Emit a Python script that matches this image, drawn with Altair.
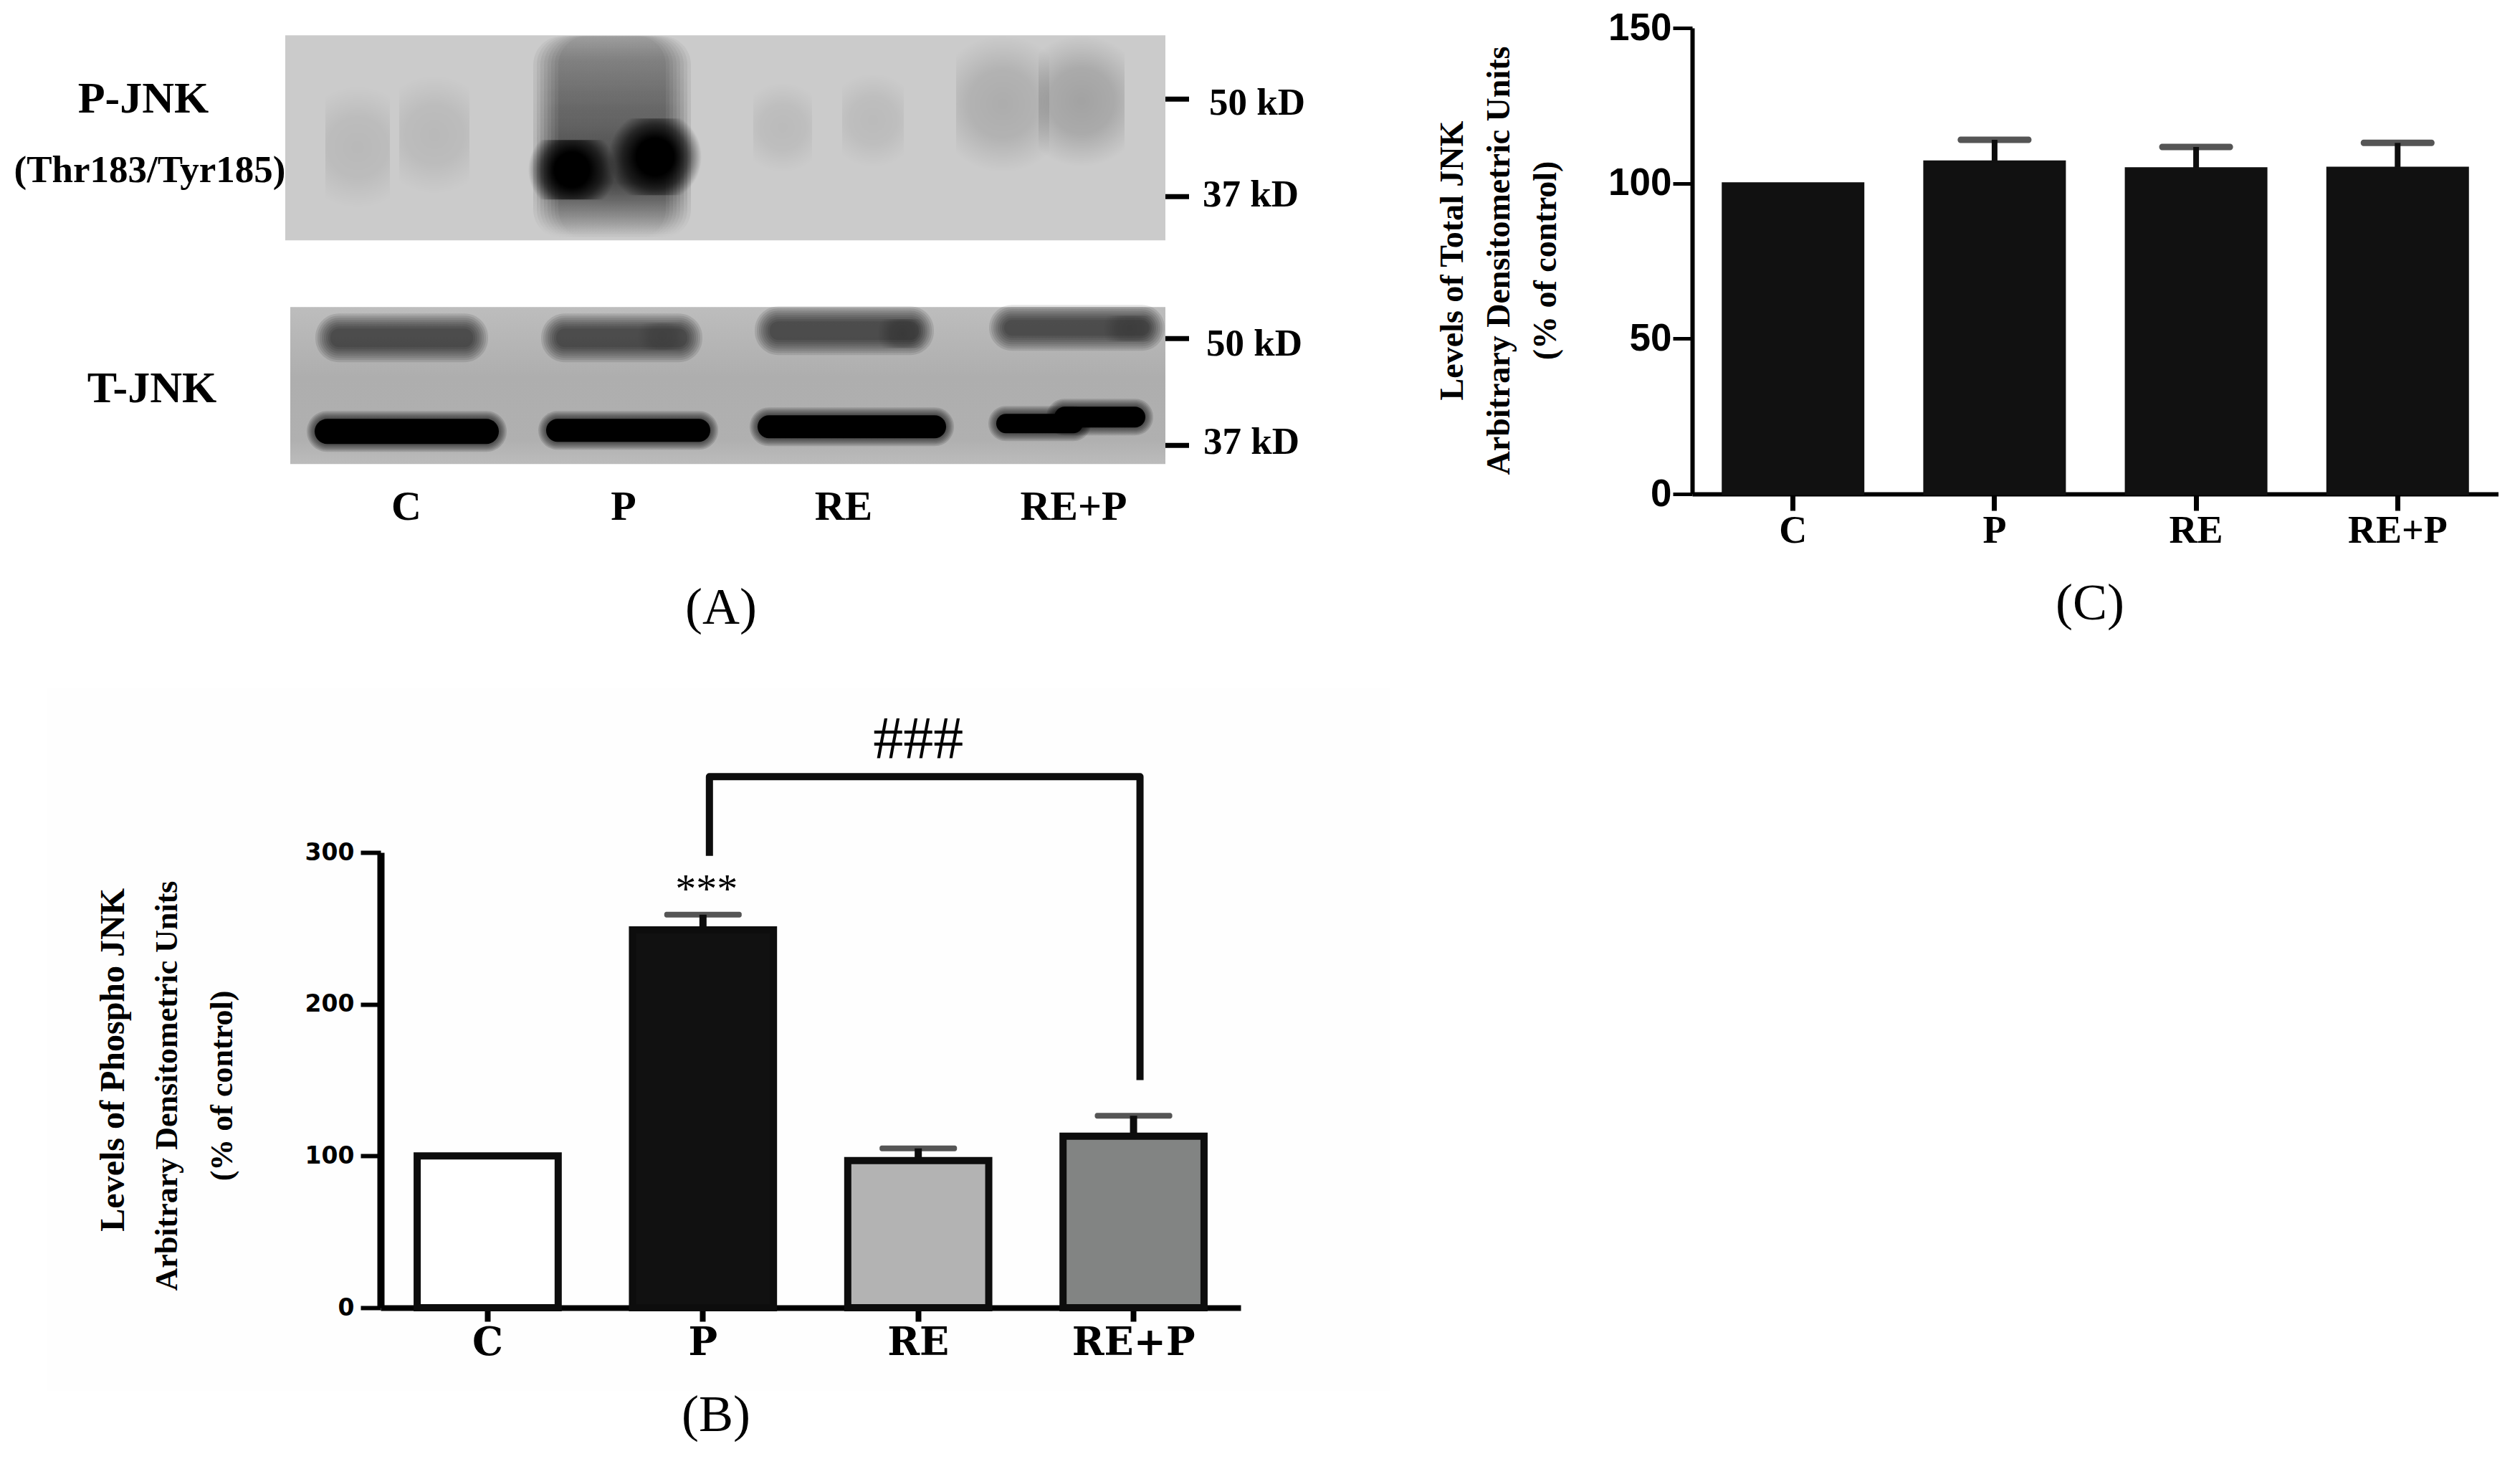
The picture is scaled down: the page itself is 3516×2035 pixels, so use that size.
import altair as alt
import pandas as pd

groups = ["C", "P", "RE", "RE+P"]
# panel B
b_mean = [100, 249, 97, 113]
b_top = [None, 259, 105, 126.5]
b_fill = ["#ffffff", "#111111", "#b3b3b3", "#828483"]
# panel C
c_mean = [100, 107, 104.8, 105]
c_top = [None, 114, 111.7, 113]
# bracket between P and RE+P
br_group = ["P", "P", "RE+P", "RE+P"]
br_val = [297.7, 350, 350, 150]

BLACK = "#0d0d0d"
SERIF = "Liberation Serif"
SANS = "Liberation Sans"

# canvas for the blots: the axes read image pixels
cx = alt.Scale(domain=[12, 2362], nice=False, zero=False)
cy = alt.Scale(domain=[38.7, 688.7], nice=False, zero=False, reverse=True)
def rects(rows, **mark):
    df = pd.DataFrame(rows, columns=["x0", "x1", "y0", "y1", "o"])
    return alt.Chart(df).mark_rect(**mark).encode(
        x=alt.X("x0:Q", scale=cx, axis=None), x2="x1:Q",
        y=alt.Y("y0:Q", scale=cy, axis=None), y2="y1:Q",
        opacity=alt.Opacity("o:Q", scale=None))
def grow(rows, d, o):
    return [[a - d, b + d, c - d, e + d, o] for a, b, c, e, _ in rows]
def growx(rows, d, o):
    return [[a - d, b + d, c, e, o] for a, b, c, e, _ in rows]
def texts(rows, font, size, weight="bold", angle=0):
    df = pd.DataFrame(rows, columns=["t", "x", "y"])
    return alt.Chart(df).mark_text(font=font, fontSize=size, fontWeight=weight, angle=angle,
                                   align="center", baseline="middle", color="#000000").encode(
        x=alt.X("x:Q", scale=cx, axis=None), y=alt.Y("y:Q", scale=cy, axis=None), text="t:N")

def stop(o, a, c="0,0,0"):
    return {"offset": o, "color": f"rgba({c},{a})"}
radial = {"gradient": "radial", "stops": [stop(0, 1), stop(0.5, 0.8), stop(0.8, 0.3), stop(1, 0)]}
core = {"gradient": "radial", "stops": [stop(0, 1), stop(0.4, 1), stop(0.7, 0.6), stop(1, 0)]}
haze = {"gradient": "linear", "x1": 0, "y1": 0, "x2": 0, "y2": 1, "stops": [
    stop(0, 0.25), stop(0.12, 0.45), stop(0.45, 0.72), stop(0.72, 1), stop(0.85, 0.5), stop(1, 0)]}
t_bg = {"gradient": "linear", "x1": 0, "y1": 0, "x2": 0, "y2": 1, "stops": [
    {"offset": 0, "color": "#bdbdbd"}, {"offset": 0.45, "color": "#aeaeae"},
    {"offset": 0.85, "color": "#b0b0b0"}, {"offset": 1, "color": "#bcbcbc"}]}

panel_b_bg = [[66, 1940, 960, 1940, 1]]
p_blot = [[399, 1627, 49, 335, 1]]
t_blot = [[406, 1627, 428, 647, 1]]
p_haze = [[745, 965, 50, 332, 0.125]]
p_cores = [[738, 860, 195, 278, 1], [850, 980, 165, 272, 1]]
p_faint = [
    [455, 545, 120, 290, 0.09], [558, 656, 105, 270, 0.09],
    [1052, 1134, 115, 240, 0.08], [1176, 1262, 102, 233, 0.08],
    [1335, 1465, 49, 240, 0.15], [1450, 1570, 49, 232, 0.2],
]
t_up = [[462, 661, 458, 484, 0.1], [777, 960, 458, 484, 0.1], [1075, 1283, 448, 474, 0.1], [1402, 1605, 446, 468, 0.1]]
t_spot = [[1225, 1295, 445, 485, 0.25], [1540, 1615, 440, 476, 0.2], [890, 960, 450, 488, 0.15]]
t_low = [[440, 697, 584, 619, 1], [763, 992, 584, 616, 1], [1058, 1321, 579, 611, 1],
         [1391, 1512, 577, 604, 1], [1472, 1599, 567, 596, 1]]
ticks = [[1627, 1660, 138, 138, 1], [1627, 1660, 274, 274, 1], [1627, 1660, 472, 472, 1], [1627, 1660, 621, 621, 1]]

labels_l = [["P-JNK", 201, 138], ["T-JNK", 213, 542]]
labels_thr = [["(Thr183/Tyr185)", 210, 238]]
labels_kd = [["50 kD", 1755, 144], ["37 kD", 1746, 272], ["50 kD", 1751, 480], ["37 kD", 1747, 617]]
labels_lane = [["C", 568, 708], ["P", 871, 708], ["RE", 1178, 708], ["RE+P", 1499, 708]]
labels_panel = [["(A)", 1007, 848], ["(B)", 1000, 1974], ["(C)", 2917, 842]]
label_b1 = [["Levels of Phospho JNK", 160, 1478]]

tick_df = pd.DataFrame(ticks, columns=["x0", "x1", "y0", "y1", "o"])
tick_marks = alt.Chart(tick_df).mark_rule(strokeWidth=7, color="#000000").encode(
    x=alt.X("x0:Q", scale=cx, axis=None), x2="x1:Q", y=alt.Y("y0:Q", scale=cy, axis=None))

blur_layers = []
for d in range(0, 40, 5):
    blur_layers.append(rects(growx(p_haze, -d, 0.125), fill=haze, cornerRadius=40))
blur_layers.append(rects(p_cores, fill=core))
for d in range(21, -1, -3):
    blur_layers.append(rects(grow(t_up, d, 0.1), fill="#000000", cornerRadius=d + 12))
blur_layers.append(rects(t_spot, fill=radial))
for d in range(11, 0, -2):
    blur_layers.append(rects(grow(t_low, d, 0.13), fill="#000000", cornerRadius=d + 18))
blur_layers.append(rects(t_low, fill="#000000", cornerRadius=18))

canvas = alt.layer(
    rects(panel_b_bg, fill="#fefefe"),
    rects(p_blot, fill="#cbcbcb"),
    rects(t_blot, fill=t_bg),
    rects(p_faint, fill=radial),
    *blur_layers,
    tick_marks,
    texts(labels_l, SERIF, 62),
    texts(labels_thr, SERIF, 53),
    texts(labels_kd, SERIF, 53),
    texts(labels_lane, SERIF, 58),
    texts(labels_panel, SERIF, 72, weight="normal"),
    texts(label_b1, SERIF, 48, angle=270),
).properties(width=2350, height=650)

# panel C
dfc = pd.DataFrame({"g": groups, "m": c_mean, "top": c_top})
xc = alt.X("g:N", sort=groups, scale=alt.Scale(paddingInner=0.303, paddingOuter=0.152),
           axis=alt.Axis(title=None, labelAngle=0, labelFont=SERIF, labelFontWeight="bold", labelFontSize=54,
                         labelColor="#000000", labelPadding=1, tickSize=23, tickWidth=7, tickColor="#000000",
                         domainWidth=6, domainColor="#000000", labelBaseline="top"))
yc = alt.Y("m:Q", scale=alt.Scale(domain=[0, 150], nice=False),
           axis=alt.Axis(values=[0, 50, 100, 150], grid=False, labelFont=SANS, labelFontWeight="bold",
                         labelFontSize=53, labelColor="#000000", labelPadding=2, tickSize=27, tickWidth=5,
                         tickColor="#000000", domainWidth=6, domainColor="#000000",
                         title=["Levels of Total JNK", "Arbitrary Densitometric Units", "(% of control)"],
                         titleFont=SERIF, titleFontWeight="bold", titleFontSize=46, titleColor="#000000",
                         titleLineHeight=65, titleAngle=270, titleAlign="center", titleBaseline="alphabetic",
                         titleX=-321, titleY=324))
c_base = alt.Chart(dfc)
c_err = c_base.transform_filter("datum.top != null")
chart_c = alt.layer(
    c_err.mark_rule(strokeWidth=8, color=BLACK).encode(x=xc, y=yc, y2="top:Q"),
    c_err.mark_tick(orient="horizontal", size=103, thickness=9, cornerRadius=4, color=BLACK).encode(x=xc, y=alt.Y("top:Q", scale=alt.Scale(domain=[0, 150], nice=False))),
    c_base.mark_bar(color="#111111", stroke="#111111", strokeWidth=3).encode(x=xc, y=yc),
).properties(width=1125, height=650)

# panel B
dfb = pd.DataFrame({"g": groups, "m": b_mean, "top": b_top, "fill": b_fill})
yscale_b = alt.Scale(domain=[0, 300], nice=False)
xb = alt.X("g:N", sort=groups, scale=alt.Scale(paddingInner=0.345, paddingOuter=0.17),
           axis=alt.Axis(title=None, labelAngle=0, labelFont="DejaVu Serif", labelFontWeight="bold", labelFontSize=54,
                         labelColor="#000000", labelPadding=3, tickSize=19, tickWidth=8, tickColor="#000000",
                         domainWidth=8, domainColor="#000000", labelBaseline="top"))
yb = alt.Y("m:Q", scale=yscale_b,
           axis=alt.Axis(values=[0, 100, 200, 300], grid=False, labelFont="DejaVu Sans", labelFontWeight="bold",
                         labelFontSize=33, labelColor="#000000", labelPadding=9, tickSize=28, tickWidth=6,
                         tickColor="#000000", domainWidth=10, domainColor="#000000",
                         title=["Arbitrary Densitometric Units", "(% of control)"],
                         titleFont=SERIF, titleFontWeight="bold", titleFontSize=44, titleColor="#000000",
                         titleLineHeight=77, titleAngle=270, titleAlign="center", titleBaseline="alphabetic",
                         titleX=-285, titleY=325))
b_base = alt.Chart(dfb)
b_err = b_base.transform_filter("datum.top != null")
dfbr = pd.DataFrame({"g": br_group, "v": br_val, "o": [0, 1, 2, 3]})
dfstar = pd.DataFrame({"g": ["P"], "v": [275], "t": ["***"]})
dfhash = pd.DataFrame({"g": ["RE"], "v": [373.5], "t": ["###"]})
chart_b = alt.layer(
    b_err.mark_rule(strokeWidth=10, color=BLACK).encode(x=xb, y=yb, y2="top:Q"),
    b_err.mark_tick(orient="horizontal", size=108, thickness=8, cornerRadius=3, color=BLACK).encode(x=xb, y=alt.Y("top:Q", scale=yscale_b)),
    b_base.mark_bar(stroke=BLACK, strokeWidth=10).encode(
        x=xb, y=yb, fill=alt.Fill("fill:N", scale=None)),
    alt.Chart(dfbr).mark_line(color=BLACK, strokeWidth=10, xOffset=9, clip=False, strokeJoin="round").encode(
        x=xb.title(None), y=alt.Y("v:Q", scale=yscale_b), order="o:Q"),
    alt.Chart(dfstar).mark_text(font=SERIF, fontSize=58, baseline="middle", clip=False, color="#000000", xOffset=5).encode(
        x=xb, y=alt.Y("v:Q", scale=yscale_b), text="t:N"),
    alt.Chart(dfhash).mark_text(font=SERIF, fontSize=84, baseline="middle", clip=False, color="#000000").encode(
        x=xb, y=alt.Y("v:Q", scale=yscale_b), text="t:N"),
).properties(width=1200, height=635)

spacer = alt.Chart(pd.DataFrame({"v": [0]})).mark_point(opacity=0).encode(
    x=alt.value(0), y=alt.value(0)).properties(width=520, height=1)

row1 = alt.hconcat(canvas, chart_c, spacing=0, bounds="flush")
row2 = alt.hconcat(spacer, chart_b, spacing=0, bounds="flush")
chart = alt.vconcat(row1, row2, spacing=1150, bounds="flush").resolve_scale(x="independent", y="independent").properties(
    padding={"left": 0, "top": 5, "right": 0, "bottom": 0}, background="#ffffff"
).configure_view(stroke=None)

chart.save("out.html", embed_options={"renderer": "svg", "actions": False})
